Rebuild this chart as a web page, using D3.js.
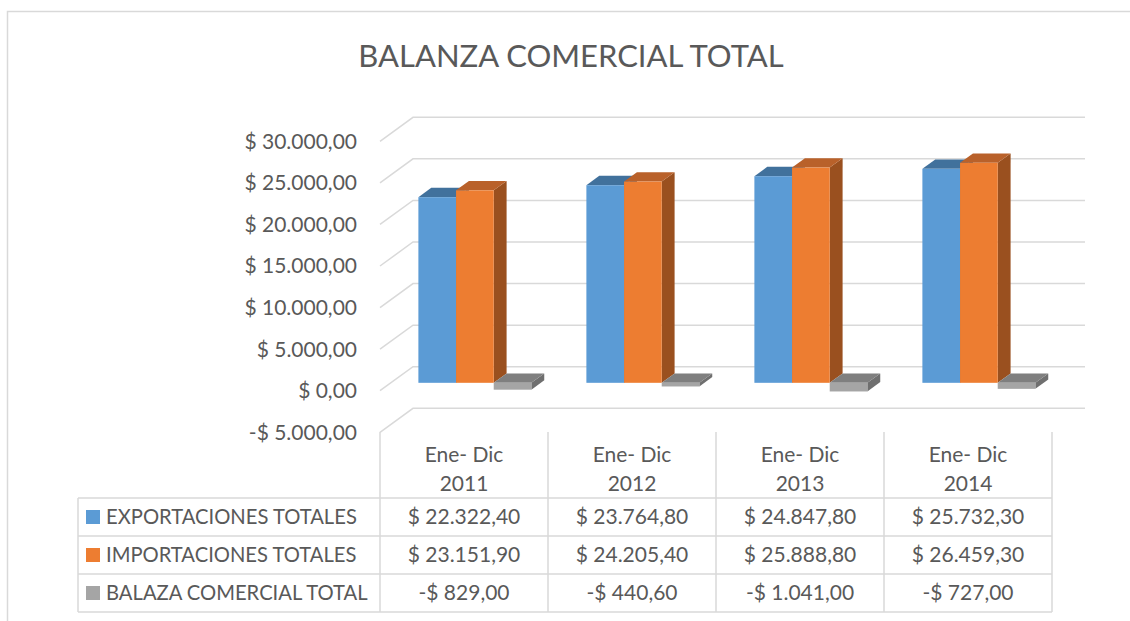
<!DOCTYPE html>
<html>
<head>
<meta charset="utf-8">
<script src="https://cdn.jsdelivr.net/npm/d3@7"></script>
<style>
  html, body { margin: 0; padding: 0; background: #fff; }
  svg { display: block; }
  text { font-family: Lato, "Open Sans", sans-serif; fill: #595959; }
</style>
</head>
<body>
<div id="chart"></div>
<script>
// Data
const categories = ["Ene- Dic 2011", "Ene- Dic 2012", "Ene- Dic 2013", "Ene- Dic 2014"];
const seriesNames = ["EXPORTACIONES TOTALES", "IMPORTACIONES TOTALES", "BALAZA COMERCIAL TOTAL"];
const exportaciones = [22322.40, 23764.80, 24847.80, 25732.30];
const importaciones = [23151.90, 24205.40, 25888.80, 26459.30];
const balanza = [-829.00, -440.60, -1041.00, -727.00];
const yTicks = [-5000, 0, 5000, 10000, 15000, 20000, 25000, 30000];
const chartTitle = "BALANZA COMERCIAL TOTAL";

const seriesValues = [exportaciones, importaciones, balanza];

// colours: front, top, side
const palette = [
  { front: "#5B9BD5", top: "#41719C", side: "#3F6E98" },
  { front: "#ED7D31", top: "#B9612A", side: "#9A501F" },
  { front: "#A5A5A5", top: "#7F7F7F", side: "#6F6F6F" }
];

const width = 1130, height = 621;

// 3D projection: back wall offset
const DX = 33, DY = -24;
const depthFront = 0.33, depthBack = 0.72;

const locale = d3.formatLocale({
  decimal: ",", thousands: ".", grouping: [3], currency: ["$ ", ""], minus: "-"
});
const fmt = locale.format("$,.2f");

const svg = d3.select("#chart")
  .append("svg")
  .attr("width", width)
  .attr("height", height);

// outer chart frame (clipped by the picture edge)
svg.append("rect")
  .attr("x", 7.5).attr("y", 11.5)
  .attr("width", 1200).attr("height", 700)
  .attr("fill", "none")
  .attr("stroke", "#D9D9D9")
  .attr("stroke-width", 1.5);

// Title
svg.append("text")
  .attr("x", 571)
  .attr("y", 67)
  .attr("text-anchor", "middle")
  .style("font-size", "31px")
  .text(chartTitle);

// Scales (front plane)
const yScale = d3.scaleLinear().domain([-5000, 30000]).range([432.3, 141.3]);
const xScale = d3.scaleBand().domain(categories).range([380, 1052]);
const xInner = d3.scaleBand().domain(seriesNames).range([0, xScale.bandwidth()])
  .paddingInner(0).paddingOuter(0.73);

const plotRight = xScale.range()[1];

// Walls: left side diagonals + back gridlines
const grid = svg.append("g").attr("class", "grid");
yTicks.forEach(t => {
  const y = yScale(t);
  grid.append("path")
    .attr("d", `M${380},${y}L${380 + DX},${y + DY}L${plotRight + DX},${y + DY}`)
    .attr("fill", "none")
    .attr("stroke", "#D9D9D9")
    .attr("stroke-width", 1.5);
});

// Y axis labels
svg.append("g")
  .selectAll("text")
  .data(yTicks)
  .join("text")
  .attr("x", 357)
  .attr("y", d => yScale(d))
  .attr("dy", "0.35em")
  .attr("text-anchor", "end")
  .style("font-size", "21px")
  .text(d => fmt(d));

// Bars
const bars = svg.append("g").attr("class", "bars");
const bx = DX * depthFront, by = DY * depthFront;
const ddx = DX * (depthBack - depthFront), ddy = DY * (depthBack - depthFront);

categories.forEach((c, ci) => {
  seriesNames.forEach((s, si) => {
    const v = seriesValues[si][ci];
    const col = palette[si];
    const x0 = xScale(c) + xInner(s) + bx;
    const x1 = x0 + xInner.bandwidth();
    const yTop = Math.min(yScale(v), yScale(0)) + by;
    const yBot = Math.max(yScale(v), yScale(0)) + by;
    // side
    bars.append("path")
      .attr("d", `M${x1},${yTop}L${x1 + ddx},${yTop + ddy}L${x1 + ddx},${yBot + ddy}L${x1},${yBot}Z`)
      .attr("fill", col.side);
    // top
    bars.append("path")
      .attr("d", `M${x0},${yTop}L${x0 + ddx},${yTop + ddy}L${x1 + ddx},${yTop + ddy}L${x1},${yTop}Z`)
      .attr("fill", col.top);
    // front
    bars.append("rect")
      .attr("x", x0).attr("y", yTop)
      .attr("width", x1 - x0).attr("height", yBot - yTop)
      .attr("fill", col.front);
  });
});

// Data table
const table = svg.append("g").attr("class", "table");
const headTop = 432, headBottom = 498, rowH = 38, tableLeft = 78;
const tableBottom = headBottom + rowH * seriesNames.length;
const lineStyle = sel => sel.attr("stroke", "#D9D9D9").attr("stroke-width", 1.5);

// vertical lines at category boundaries
const bounds = categories.map(c => xScale(c)).concat([plotRight]);
bounds.forEach(x => {
  table.append("line").attr("x1", x).attr("x2", x)
    .attr("y1", headTop).attr("y2", tableBottom).call(lineStyle);
});
// left border of row header
table.append("line").attr("x1", tableLeft).attr("x2", tableLeft)
  .attr("y1", headBottom).attr("y2", tableBottom).call(lineStyle);
// horizontal lines
d3.range(seriesNames.length + 1).forEach(i => {
  const y = headBottom + i * rowH;
  table.append("line").attr("x1", tableLeft).attr("x2", plotRight)
    .attr("y1", y).attr("y2", y).call(lineStyle);
});

// header labels
categories.forEach(c => {
  const cut = c.lastIndexOf(" ");
  const cx = xScale(c) + xScale.bandwidth() / 2;
  table.append("text").attr("x", cx).attr("y", 455).attr("dy", "0.35em")
    .attr("text-anchor", "middle").style("font-size", "21px").text(c.slice(0, cut));
  table.append("text").attr("x", cx).attr("y", 484).attr("dy", "0.35em")
    .attr("text-anchor", "middle").style("font-size", "21px").text(c.slice(cut + 1));
});

// rows
seriesNames.forEach((s, si) => {
  const cy = headBottom + si * rowH + rowH / 2;
  table.append("rect")
    .attr("x", 86).attr("y", cy - 7)
    .attr("width", 14).attr("height", 14)
    .attr("fill", palette[si].front);
  table.append("text")
    .attr("x", 106).attr("y", cy).attr("dy", "0.35em")
    .style("font-size", "20.2px")
    .text(s);
  categories.forEach((c, ci) => {
    table.append("text")
      .attr("x", xScale(c) + xScale.bandwidth() / 2)
      .attr("y", cy).attr("dy", "0.35em")
      .attr("text-anchor", "middle")
      .style("font-size", "21px")
      .text(fmt(seriesValues[si][ci]));
  });
});
</script>
</body>
</html>
